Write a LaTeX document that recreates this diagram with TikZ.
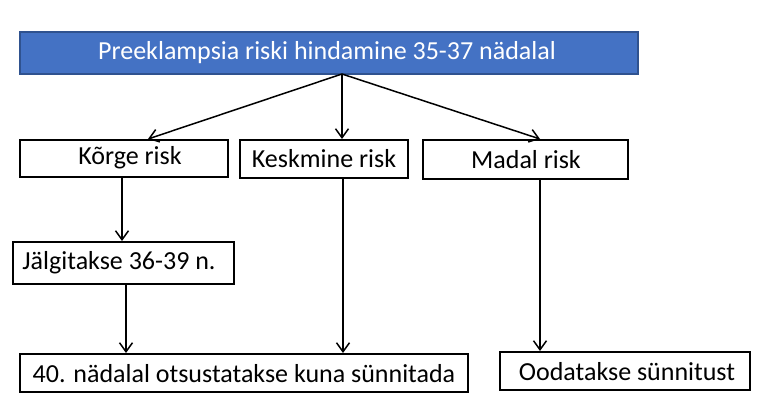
\documentclass[tikz,border=0pt]{standalone}
\usepackage{fontspec}
\setmainfont{Carlito}
\usetikzlibrary{arrows.meta}
\begin{document}
\begin{tikzpicture}[x=1pt,y=-1pt,
  box/.style={draw=black,line width=1.5pt},
  lbl/.style={font=\fontsize{26}{30}\selectfont},
  arr/.style={-{Straight Barb[length=9pt,width=13pt]},line width=1.5pt}]
\useasboundingbox (0,0) rectangle (766,409);
\fill[white] (0,0) rectangle (766,409);
\draw[fill={rgb,255:red,68;green,114;blue,196},draw={rgb,255:red,47;green,82;blue,143},line width=1.5pt] (20,32) rectangle (638,74);
\node[text=white,lbl] (top) at (327,53) {Preeklampsia riski hindamine 35-37 nädalal};
\coordinate (topb) at (342,74);
\draw[box] (20,140) rectangle (228,177); \node[lbl] (k) at (130,158) {Kõrge risk};
\draw[box] (240,140) rectangle (408,178); \node[lbl] (ke) at (324,159) {Keskmine risk};
\draw[box] (423,140) rectangle (628,179); \node[lbl] (m) at (526,160) {Madal risk};
\draw[box] (13,242) rectangle (234,284); \node[lbl] (j) at (119,263) {Jälgitakse 36-39 n.};
\draw[box] (20,354) rectangle (468,392); \node[lbl] (n) at (244,374) {40. nädalal otsustatakse kuna sünnitada};
\draw[box] (500,352) rectangle (750,390); \node[lbl] (o) at (627,372) {Oodatakse sünnitust};
\coordinate (a1) at (148,139); \coordinate (a2) at (342,139); \coordinate (a3) at (540,139);
\draw[arr] (topb) -- (a1);
\draw[arr] (topb) -- (a2);
\draw[arr] (topb) -- (a3);
\draw[arr] (122,177) coordinate (kb) -- (122,241) coordinate (jt);
\draw[arr] (126,284) coordinate (jb) -- (126,353) coordinate (nt);
\draw[arr] (343,178) coordinate (keb) -- (343,353) coordinate (nt2);
\draw[arr] (540,179) coordinate (mb) -- (540,351) coordinate (ot);
\end{tikzpicture}
\end{document}
